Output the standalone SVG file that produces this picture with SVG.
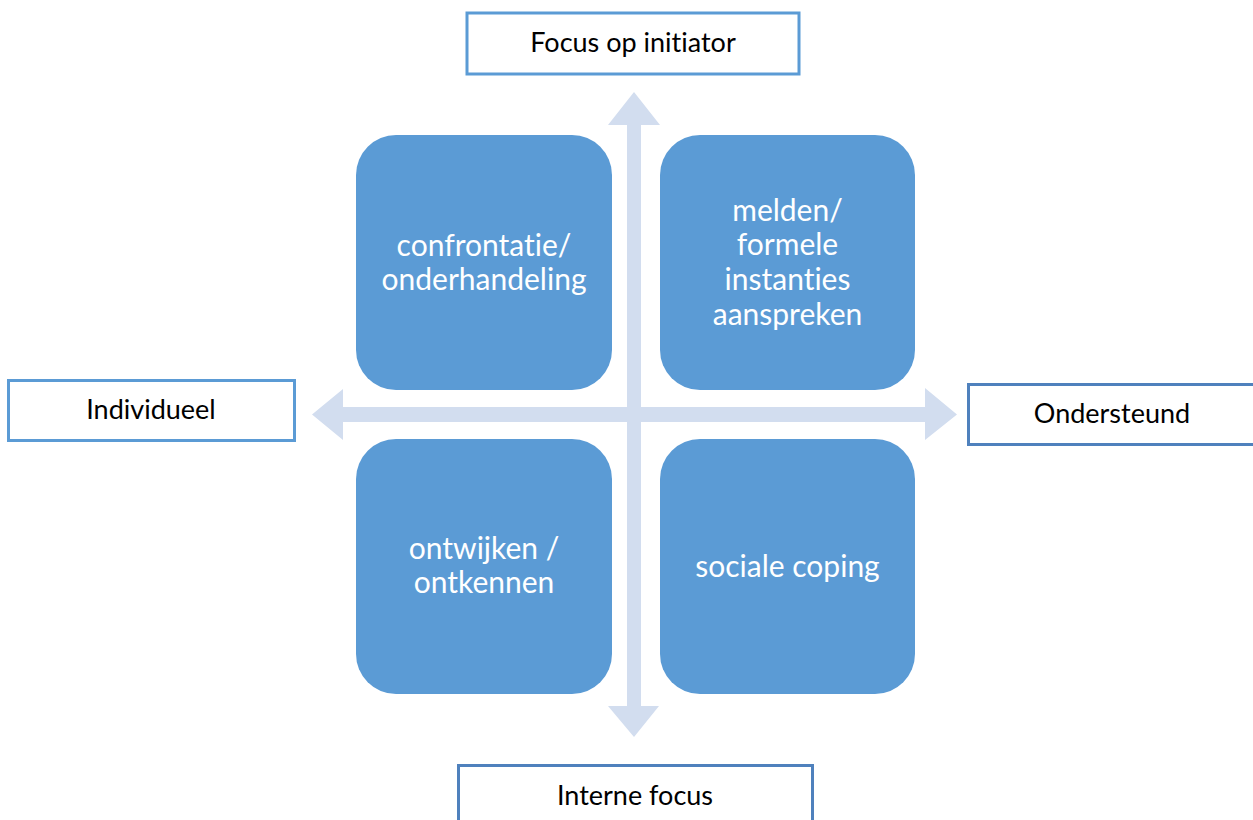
<svg xmlns="http://www.w3.org/2000/svg" width="1253" height="820" viewBox="0 0 1253 820">
  <defs>
    <style>
      .quad { fill: #5b9bd5; }
      .quad-text { font-family: Lato, "Open Sans", "Liberation Sans", sans-serif; font-size: 30px; fill: #ffffff; text-anchor: middle; font-variant-ligatures: none; }
      .label-box { fill: #ffffff; stroke-width: 3; }
      .light { stroke: #5b9bd5; }
      .dark { stroke: #4f81bd; }
      .label-text { font-family: Lato, "Open Sans", "Liberation Sans", sans-serif; font-size: 27px; fill: #000000; text-anchor: middle; font-variant-ligatures: none; }
      .axis { fill: #d2ddef; }
    </style>
  </defs>
  <rect width="1253" height="820" fill="#ffffff"/>

  <!-- crossed double-headed axes -->
  <g id="connectors">
    <path class="axis" d="M627,125 L608,125 L634,92 L660,125 L641,125 L641,706 L659,706 L634,737 L608,706 L627,706 Z"/>
    <path class="axis" d="M343,407 L343,389 L312,414.5 L343,440 L343,422 L925,422 L925,440 L957,414.5 L925,388 L925,407 Z"/>
  </g>

  <g id="quad-confrontatie">
    <rect class="quad" x="356" y="135" width="256" height="255" rx="40" ry="40"/>
    <text class="quad-text" x="484" y="256">confrontatie/</text>
    <text class="quad-text" x="484" y="290">onderhandeling</text>
  </g>
  <g id="quad-melden">
    <rect class="quad" x="660" y="135" width="255" height="255" rx="40" ry="40"/>
    <text class="quad-text" x="787.5" y="221">melden/</text>
    <text class="quad-text" x="787.5" y="255">formele</text>
    <text class="quad-text" x="787.5" y="290">instanties</text>
    <text class="quad-text" x="787.5" y="325">aanspreken</text>
  </g>
  <g id="quad-ontwijken">
    <rect class="quad" x="356" y="439" width="256" height="255" rx="40" ry="40"/>
    <text class="quad-text" x="484" y="559">ontwijken /</text>
    <text class="quad-text" x="484" y="593">ontkennen</text>
  </g>
  <g id="quad-sociale">
    <rect class="quad" x="660" y="439" width="255" height="255" rx="40" ry="40"/>
    <text class="quad-text" x="787.5" y="577">sociale coping</text>
  </g>

  <g id="label-top">
    <rect class="label-box light" x="467" y="13" width="332" height="61"/>
    <text class="label-text" x="633" y="52">Focus op initiator</text>
  </g>
  <g id="label-left">
    <rect class="label-box light" x="8.5" y="380.5" width="286" height="60"/>
    <text class="label-text" x="151" y="419">Individueel</text>
  </g>
  <g id="label-right">
    <rect class="label-box dark" x="968.5" y="384.5" width="290" height="60"/>
    <text class="label-text" x="1112" y="423">Ondersteund</text>
  </g>
  <g id="label-bottom">
    <rect class="label-box dark" x="458.5" y="765.5" width="354" height="70"/>
    <text class="label-text" x="635" y="805">Interne focus</text>
  </g>
</svg>
